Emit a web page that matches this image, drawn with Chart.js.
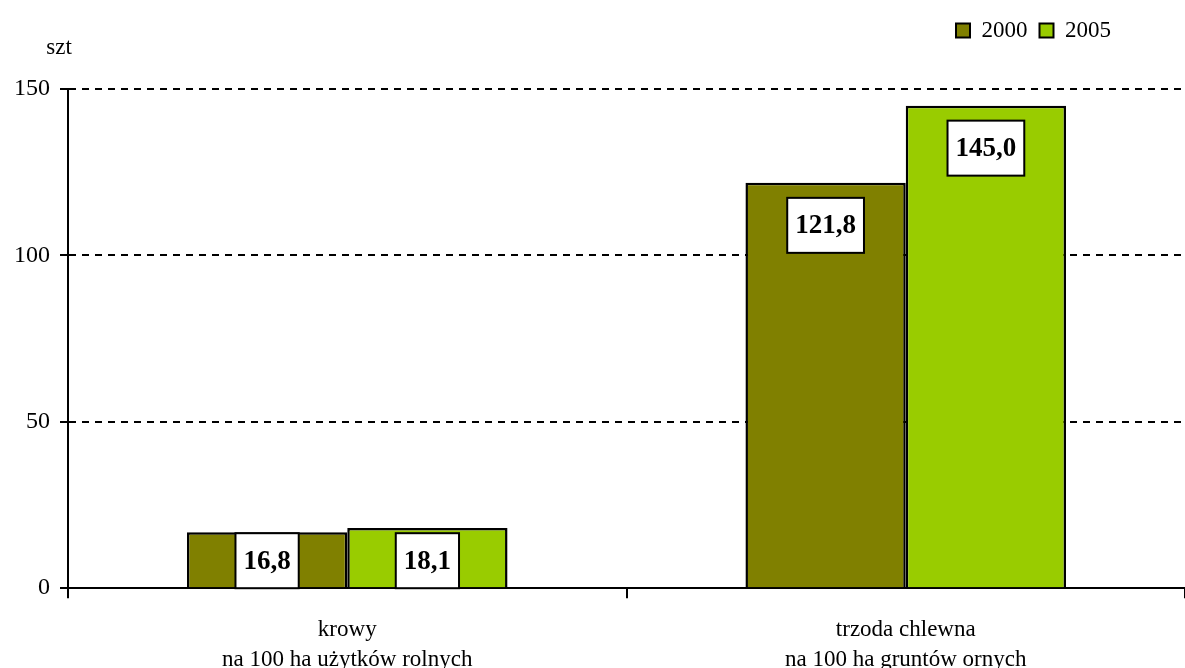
<!DOCTYPE html>
<html>
<head>
<meta charset="utf-8">
<script src="https://cdn.jsdelivr.net/npm/chart.js@4/dist/chart.umd.min.js"></script>
<style>
  html, body { margin: 0; padding: 0; background: #fff; }
  #wrap { width: 1185px; height: 668px; position: relative; }
</style>
</head>
<body>
<div id="wrap"><canvas id="myChart" width="1185" height="668"></canvas></div>
<script>
// livestock density per 100 ha
const categories = [
    ['krowy', 'na 100 ha użytków rolnych'],
    ['trzoda chlewna', 'na 100 ha gruntów ornych']
]
const years = ['2000', '2005']
const values2000 = [16.8, 121.8]
const values2005 = [18.1, 145.0]
const yTicks = [0, 50, 100, 150]

const serif = "'Liberation Serif', 'Times New Roman', serif"

// white boxed value labels inside the top of each bar
const boxLabels = {
    id: 'boxLabels',
    afterDatasetsDraw(chart) {
        const ctx = chart.ctx
        const base = chart.scales.y.getPixelForValue(0)
        ctx.save()
        ctx.font = 'bold 27px ' + serif
        ctx.textAlign = 'center'
        ctx.textBaseline = 'middle'
        chart.data.datasets.forEach((ds, di) => {
            chart.getDatasetMeta(di).data.forEach((bar, i) => {
                const text = ds.data[i].toFixed(1).replace('.', ',')
                const w = ctx.measureText(text).width + 16
                const h = 55
                const top = Math.min(bar.y + 15, base - h)
                const left = bar.x - w / 2
                ctx.fillStyle = '#fff'
                ctx.fillRect(left, top, w, h)
                ctx.lineWidth = 2
                ctx.strokeStyle = '#000'
                ctx.strokeRect(left, top, w, h)
                ctx.fillStyle = '#000'
                ctx.fillText(text, bar.x, top + h / 2 + 1)
            })
        })
        ctx.restore()
    }
}

// unit caption above the value axis, legend nudged left/up
const unitLabel = {
    id: 'unitLabel',
    afterLayout(chart) {
        const lg = chart.legend
        lg.left -= 62
        lg.right -= 62
        lg.top -= 37
        lg.bottom -= 37
    },
    afterDraw(chart) {
        const ctx = chart.ctx
        ctx.save()
        ctx.font = '23px ' + serif
        ctx.fillStyle = '#000'
        ctx.textAlign = 'center'
        ctx.textBaseline = 'middle'
        ctx.fillText('szt', 59, 48)
        ctx.restore()
    }
}

const ctx = document.getElementById('myChart')
new Chart(ctx, {
    type: 'bar',
    data: {
        labels: categories,
        datasets: [{
            label: years[0],
            data: values2000,
            backgroundColor: '#808000',
            borderColor: '#000',
            borderWidth: 2.5,
            categoryPercentage: 0.574,
            barPercentage: 1
        }, {
            label: years[1],
            data: values2005,
            backgroundColor: '#99CC00',
            borderColor: '#000',
            borderWidth: 2.5,
            categoryPercentage: 0.574,
            barPercentage: 1
        }]
    },
    options: {
        responsive: false,
        animation: false,
        layout: {
            padding: { top: 44, right: 0, bottom: -24, left: 0 }
        },
        scales: {
            x: {
                grid: {
                    drawOnChartArea: false,
                    color: '#000',
                    lineWidth: 2,
                    tickLength: 10
                },
                border: { color: '#000', width: 2 },
                ticks: {
                    color: '#000',
                    font: { family: serif, size: 23, lineHeight: 1.3 },
                    padding: 17,
                    maxRotation: 0
                }
            },
            y: {
                min: 0,
                max: 150,
                afterBuildTicks(scale) {
                    scale.ticks = yTicks.map(v => ({ value: v }))
                },
                afterFit(scale) {
                    scale.width = 68
                },
                grid: {
                    color: c => c.tick && c.tick.value === 0 ? 'rgba(0,0,0,0)' : '#000',
                    lineWidth: 2,
                    tickLength: 8,
                    tickColor: '#000',
                    tickBorderDash: []
                },
                border: { color: '#000', width: 2, dash: [7, 6] },
                ticks: {
                    color: '#000',
                    font: { family: serif, size: 24 },
                    padding: 10
                }
            }
        },
        plugins: {
            legend: {
                position: 'top',
                align: 'end',
                labels: {
                    color: '#000',
                    font: { family: serif, size: 23 },
                    boxWidth: 14,
                    boxHeight: 14,
                    padding: 12,
                    generateLabels(chart) {
                        return chart.data.datasets.map((ds, i) => ({
                            text: ds.label,
                            fillStyle: ds.backgroundColor,
                            strokeStyle: '#000',
                            lineWidth: 2,
                            datasetIndex: i
                        }))
                    }
                }
            },
            tooltip: { enabled: false }
        }
    },
    plugins: [boxLabels, unitLabel]
})
</script>
</body>
</html>
